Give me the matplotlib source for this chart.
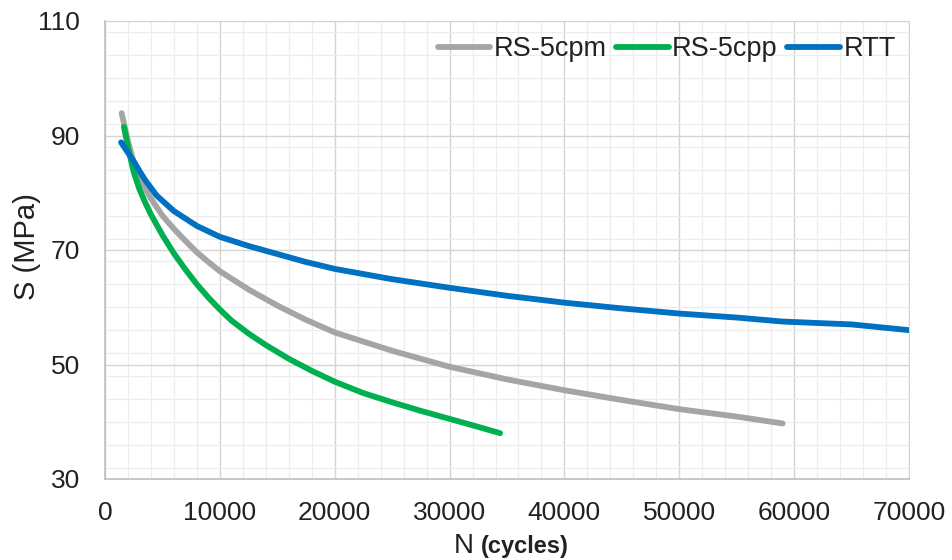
import matplotlib
matplotlib.use("Agg")
import matplotlib.pyplot as plt
from matplotlib.ticker import MultipleLocator

plt.rcParams['font.family'] = ['Liberation Sans', 'DejaVu Sans']

# Data
cpm_n = [1450, 2000, 2500, 3000, 4000, 5000, 6000, 7000, 8000, 9000, 10000,
         12500, 15000, 17500, 20000, 25000, 30000, 35000, 40000, 45000, 50000,
         55000, 59000]
cpm_s = [93.9, 89.0, 85.3, 82.5, 79.0, 76.0, 73.7, 71.6, 69.6, 67.9, 66.3,
         63.1, 60.3, 57.8, 55.6, 52.4, 49.6, 47.4, 45.5, 43.8, 42.2,
         40.9, 39.7]

cpp_n = [1650, 2000, 2500, 3000, 3500, 4000, 5000, 6000, 7000, 8000, 9000,
         10000, 11000, 12500, 14000, 16000, 18000, 20000, 22500, 25000, 27500,
         30000, 32500, 34400]
cpp_s = [91.5, 88.0, 83.6, 80.6, 78.3, 76.2, 72.6, 69.4, 66.6, 64.0, 61.7,
         59.6, 57.7, 55.4, 53.4, 51.0, 48.9, 47.0, 45.0, 43.4, 41.9,
         40.5, 39.1, 38.0]

rtt_n = [1400, 2000, 2500, 3000, 3500, 4500, 6000, 8000, 10000, 12500, 15000,
         17500, 20000, 25000, 30000, 35000, 40000, 45000, 50000, 55000, 59000,
         65000, 70000]
rtt_s = [88.8, 87.0, 85.5, 83.8, 82.2, 79.5, 76.8, 74.2, 72.3, 70.7, 69.3,
         67.9, 66.7, 64.9, 63.4, 62.0, 60.8, 59.8, 58.9, 58.2, 57.5,
         57.0, 56.0]

series_labels = ['RS-5cpm', 'RS-5cpp', 'RTT']
series_colors = ['#A5A5A5', '#00B050', '#0070C0']

x_ticks = [0, 10000, 20000, 30000, 40000, 50000, 60000, 70000]
y_ticks = [30, 50, 70, 90, 110]

fig = plt.figure(figsize=(9.52, 5.6), dpi=100)
ax = fig.add_axes([105/952, 1-479/560, (909-105)/952, (479-21)/560])

for n, s, lab, col in zip([cpm_n, cpp_n, rtt_n], [cpm_s, cpp_s, rtt_s],
                          series_labels, series_colors):
    ax.plot(n, s, color=col, lw=4.2, label=lab, solid_capstyle='round',
            solid_joinstyle='round', zorder=3)

ax.set_xlim(0, 70000)
ax.set_ylim(30, 110)
ax.set_xticks(x_ticks)
ax.set_xticklabels([str(v) for v in x_ticks])
ax.set_yticks(y_ticks)
ax.set_yticklabels([str(v) for v in y_ticks])
ax.xaxis.set_minor_locator(MultipleLocator(2000))
ax.yaxis.set_minor_locator(MultipleLocator(4))
ax.grid(which='major', color='#D4D4D4', lw=1.0, zorder=1)
ax.grid(which='minor', color='#EDEDED', lw=0.9, zorder=0)
ax.tick_params(which='both', length=0)
ax.tick_params(axis='y', pad=18, labelsize=19, labelcolor='#222222')
ax.tick_params(axis='x', pad=16, labelsize=19, labelcolor='#222222')
for side in ['top', 'right']:
    ax.spines[side].set_color('#D4D4D4')
for side in ['left', 'bottom']:
    ax.spines[side].set_color('#BFBFBF')
    ax.spines[side].set_linewidth(1.2)

leg = ax.legend(loc='upper right', ncol=3, frameon=False, fontsize=19.5,
                handlelength=1.95, handletextpad=0.12, columnspacing=0.35,
                borderaxespad=0.0, bbox_to_anchor=(0.997, 0.99))
for t in leg.get_texts():
    t.set_color('#222222')

fig.text(27/952, 1-247/560, 'S (MPa)', rotation=90, ha='center', va='center',
         fontsize=21, color='#222222')
fig.text(474/952, 7/560, 'N', ha='right', va='baseline', fontsize=20, color='#222222')
fig.text(481/952, 7/560, '(cycles)', ha='left', va='baseline', fontsize=17,
         fontweight='bold', color='#222222')

fig.savefig('out.png', dpi=100)
